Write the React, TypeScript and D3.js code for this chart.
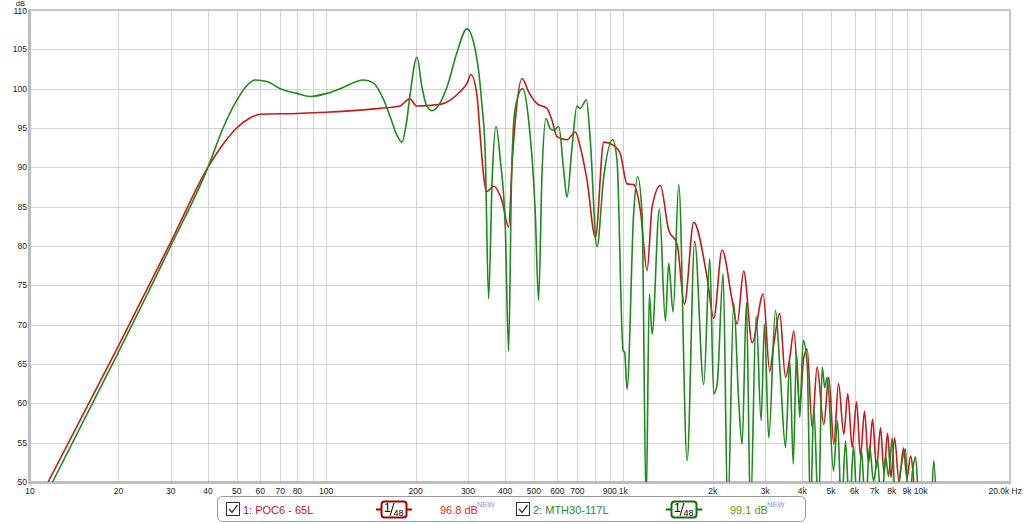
import React from 'react';
import * as d3 from 'd3';

// ---- data ----
const redFreq = [11.6, 20, 30, 40, 45.1, 50, 55, 60, 80, 100, 152, 177, 191, 202, 242, 282, 298, 307, 322, 330, 339, 346, 366, 390, 411, 423, 433, 456, 480, 512, 553, 575, 598, 646, 689, 716, 755, 805, 859, 927, 977, 1029, 1083, 1141, 1202, 1249, 1332, 1421, 1516, 1605, 1725, 1913, 2014, 2149, 2323, 2414, 2541, 2713, 2954, 3109, 3206, 3359, 3512, 3631, 3745, 3924, 4046, 4155, 4319, 4487, 4725, 4912, 5107, 5297, 5518, 5691, 5888, 6088, 6281, 6478, 6683, 6894, 7111, 7335, 7535, 7743, 7956, 8175, 8464, 8765, 9000, 9255, 9547];
const redDb = [50.0, 67.3, 80.5, 90.0, 93.0, 95.0, 96.2, 96.75, 96.85, 97.0, 97.5, 97.8, 98.7, 97.8, 98.0, 99.6, 100.7, 101.8, 99.0, 93.9, 88.8, 86.9, 87.6, 85.8, 82.4, 90.9, 96.0, 101.3, 99.6, 98.1, 97.5, 96.0, 93.9, 93.5, 94.5, 92.6, 88.3, 81.1, 93.2, 92.8, 91.7, 87.9, 87.8, 84.5, 76.9, 84.9, 87.7, 82.0, 80.3, 72.6, 83.0, 76.0, 70.8, 79.5, 73.1, 70.1, 76.8, 67.7, 73.9, 64.1, 67.5, 71.4, 63.3, 65.8, 69.2, 59.9, 65.8, 66.9, 56.9, 64.6, 57.3, 63.3, 54.8, 62.5, 56.1, 61.2, 54.4, 60.2, 53.3, 59.0, 52.4, 58.0, 51.8, 56.9, 51.1, 56.2, 50.6, 55.6, 50.1, 54.3, 50.4, 53.3, 48.5];

const greenFreq = [12.0, 20, 30, 40, 45.1, 50, 54.1, 57.7, 63.1, 70, 79.7, 88, 100.5, 111.5, 133.6, 144.3, 156, 165, 173, 179.8, 186, 191.8, 202, 210, 218, 227, 240, 255, 275, 297.6, 322, 334, 343, 352, 362, 373, 385.5, 400.6, 411, 420.7, 431.8, 458, 480, 505, 518.5, 532, 549, 568, 583, 606, 630, 646, 672, 698, 716, 751, 774, 815, 859, 920, 952, 998, 1010, 1029, 1083, 1117, 1156, 1193, 1223, 1249, 1322, 1385, 1421, 1470, 1536, 1639, 1738, 1864, 1953, 2014, 2068, 2166, 2245, 2352, 2444, 2510, 2595, 2677, 2798, 2908, 2984, 3085, 3250, 3378, 3512, 3631, 3729, 3824, 3924, 4027, 4155, 4263, 4372, 4536, 4667, 4763, 4853, 5095, 5255, 5420, 5591, 5768, 5949, 6137, 6329, 6529, 6734, 6947, 7165, 7391, 7624, 7803, 8029, 8238, 8562, 8903, 9113, 9399, 9621, 9923, 10806, 11088, 11322];
const greenDb = [50.0, 66.5, 80.0, 90.0, 95.1, 98.5, 100.4, 101.1, 100.9, 100.0, 99.4, 99.0, 99.4, 100.0, 101.1, 100.7, 98.6, 96.2, 94.1, 93.2, 95.5, 99.4, 104.0, 100.2, 97.8, 97.2, 98.0, 100.2, 104.5, 107.6, 103.6, 98.1, 91.7, 73.3, 88.8, 95.2, 90.9, 82.4, 66.6, 89.2, 97.3, 100.0, 96.0, 84.5, 73.1, 88.8, 96.2, 94.9, 94.7, 95.2, 89.6, 86.2, 92.6, 97.8, 97.5, 98.6, 93.4, 79.9, 88.8, 93.5, 90.9, 66.7, 66.5, 61.8, 84.1, 88.8, 84.1, 47, 73.9, 68.8, 84.7, 70.5, 77.8, 71.6, 87.8, 52.7, 80.6, 62.4, 78.4, 61.2, 62.4, 76.5, 46, 72.8, 60.3, 54.8, 72.8, 46, 71.1, 57.8, 70.1, 55.6, 71.8, 63.3, 54.4, 65.4, 52.3, 66.3, 58.2, 68.0, 65.0, 46, 59.5, 46, 64.6, 62.0, 63.3, 51.4, 57.8, 46, 55.2, 46, 54.6, 46, 54.0, 46, 54.6, 50.1, 52.9, 46, 53.3, 50.7, 55.6, 46, 51.4, 54.2, 46, 51.4, 53.2, 46, 46, 52.7, 46];

const gridFreqs = [20, 30, 40, 50, 60, 70, 80, 90, 100, 200, 300, 400, 500, 600, 700, 800, 900, 1000, 2000, 3000, 4000, 5000, 6000, 7000, 8000, 9000, 10000];
const freqLabels = [10, 20, 30, 40, 50, 60, 70, 80, 100, 200, 300, 400, 500, 600, 700, 900, 1000, 2000, 3000, 4000, 5000, 6000, 7000, 8000, 9000, 10000];
const dbTicks = [50, 55, 60, 65, 70, 75, 80, 85, 90, 95, 100, 105, 110];

const series1Name = '1: POC6 - 65L';
const series2Name = '2: MTH30-117L';
const series1Level = '96.8 dB';
const series2Level = '99.1 dB';

const RED = '#c41a1a';
const GREEN = '#1c8a1c';
const FONT = '"Liberation Sans", Arial, sans-serif';

function fmt(f: number) {
  return f >= 1000 ? `${f / 1000}k` : `${f}`;
}

function Badge({ x, color }: { x: number; color: string }) {
  return (
    <g>
      <line x1={x} x2={x + 36} y1={509.5} y2={509.5} stroke={color} strokeWidth={2} />
      <rect x={x + 5.5} y={501.5} width={25} height={16} rx={3} fill="#fff" stroke={color} strokeWidth={2} />
      <text x={x + 8} y={512} fontSize={12} fontFamily={FONT} fill="#000">1</text>
      <line x1={x + 14} y1={516} x2={x + 18} y2={503} stroke="#000" strokeWidth={1} />
      <text x={x + 17.5} y={516} fontSize={9} fontFamily={FONT} fill="#000">48</text>
    </g>
  );
}

function Check({ x }: { x: number }) {
  return (
    <g>
      <rect x={x + 0.5} y={502.5} width={13} height={13} fill="#fff" stroke="#333" strokeWidth={1} />
      <path d={`M${x + 3},${509} L${x + 6},${512.5} L${x + 11.5},${505}`} fill="none" stroke="#333" strokeWidth={1.3} />
    </g>
  );
}

export default function App() {
  const x = d3.scaleLog().domain([10, 20000]).range([29, 1010]);
  const y = d3.scaleLinear().domain([50, 110]).range([482, 10]);
  const line = d3
    .line<[number, number]>()
    .x((d) => x(d[0]))
    .y((d) => y(d[1]))
    .curve(d3.curveMonotoneX);

  const red: [number, number][] = redFreq.map((f, i) => [f, redDb[i]]);
  const green: [number, number][] = greenFreq.map((f, i) => [f, greenDb[i]]);

  return (
    <svg
      width={1024}
      height={524}
      style={{ position: 'absolute', left: 0, top: 0, background: '#fff' }}
    >
      <defs>
        <clipPath id="plotClip">
          <rect x={29} y={10} width={981} height={472} />
        </clipPath>
      </defs>
      <rect x={0} y={0} width={1024} height={524} fill="#fff" />
      {/* grid */}
      {dbTicks.map((d) => (
        <line key={'h' + d} x1={29} x2={1010} y1={Math.round(y(d)) + 0.5} y2={Math.round(y(d)) + 0.5} stroke="#d2d2d2" strokeWidth={1} />
      ))}
      {gridFreqs.map((f) => (
        <line key={'v' + f} x1={Math.round(x(f)) + 0.5} x2={Math.round(x(f)) + 0.5} y1={10} y2={482} stroke="#d2d2d2" strokeWidth={1} />
      ))}
      {/* frame */}
      <rect x={29} y={10} width={981} height={472} fill="none" stroke="#c6c6c6" strokeWidth={2} />
      <line x1={29.5} x2={29.5} y1={10} y2={484} stroke="#bdbdbd" strokeWidth={3} />
      <line x1={28} x2={1011} y1={482.5} y2={482.5} stroke="#bdbdbd" strokeWidth={3} />

      {/* curves */}
      <g clipPath="url(#plotClip)">
        <path d={line(red) || ''} fill="none" stroke={RED} strokeWidth={1.6} strokeLinejoin="round" />
        <path d={line(green) || ''} fill="none" stroke={GREEN} strokeWidth={1.6} strokeLinejoin="round" />
      </g>

      {/* y labels */}
      <text x={25} y={6} fontSize={7.5} fontFamily={FONT} textAnchor="end" fill="#222">dB</text>
      {dbTicks.map((d) => (
        <text key={'yl' + d} x={27} y={d === 110 ? y(d) + 4 : y(d) + 3} fontSize={8.5} fontFamily={FONT} textAnchor="end" fill="#222">
          {d}
        </text>
      ))}
      {/* x labels */}
      {freqLabels.map((f) => (
        <text key={'xl' + f} x={x(f) + (f === 10 ? 1 : 0)} y={494} fontSize={8.5} fontFamily={FONT} textAnchor="middle" fill="#222">
          {fmt(f)}
        </text>
      ))}
      <text x={1022} y={494} fontSize={8.5} fontFamily={FONT} textAnchor="end" fill="#222">20.0k Hz</text>

      {/* legend */}
      <rect x={217.5} y={496.5} width={588} height={25} rx={5} fill="#fff" stroke="#9a9a9a" strokeWidth={1} />
      <Check x={226} />
      <text x={243} y={514} fontSize={11} fontFamily={FONT} fill="#c0102a">{series1Name}</text>
      <Badge x={376} color="#a80000" />
      <text x={440} y={514} fontSize={11} fontFamily={FONT} fill="#d83018">{series1Level}</text>
      <text x={477} y={507} fontSize={7.5} fontFamily={FONT} fill="#8c8cff">NEW</text>
      <Check x={516} />
      <text x={533} y={514} fontSize={11} fontFamily={FONT} fill="#1f8a3a">{series2Name}</text>
      <Badge x={666} color="#107010" />
      <text x={730} y={514} fontSize={11} fontFamily={FONT} fill="#5a9a10">{series2Level}</text>
      <text x={767} y={507} fontSize={7.5} fontFamily={FONT} fill="#8c8cff">NEW</text>
    </svg>
  );
}
